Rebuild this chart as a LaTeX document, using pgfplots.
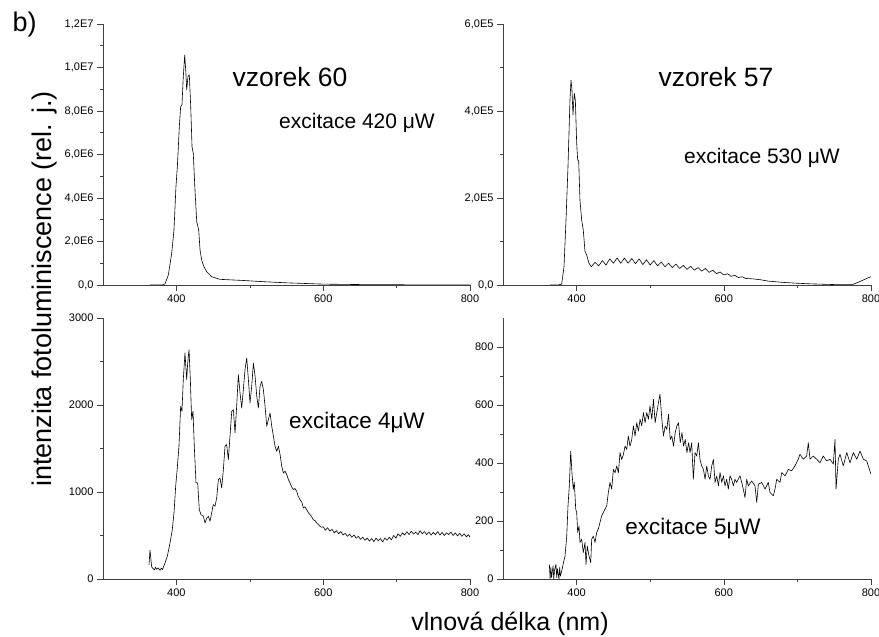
\documentclass[border=0pt]{standalone}
\usepackage{fontspec}
\setmainfont{Liberation Sans}
\usepackage{pgfplots}
\pgfplotsset{compat=1.18}
\pgfplotsset{
 panel/.style={
  scale only axis, anchor=south west,
  axis x line=bottom, axis y line=left,
  axis line style={-, black!75, line width=0.7pt},
  tick style={black!75, line width=0.6pt},
  tick align=outside,
  major tick length=6pt, minor tick length=3.5pt,
  xmin=300, xmax=800,
  xtick={400,600,800}, xticklabels={400,600,800},
  minor xtick={500,700},
  ticklabel style={font=\fontsize{11}{13}\selectfont, text=black},
 },
 curve/.style={black, line width=0.6pt, line join=round, mark=none},
}
\begin{document}
\begin{tikzpicture}
\useasboundingbox (0,0) rectangle (879pt,637pt);

% top left: vzorek 60, 420 uW (units 1E6)
\begin{axis}[panel, at={(103pt,352pt)}, width=367pt, height=261pt,
  ymin=0, ymax=12, ytick={0,2,4,6,8,10,12},
  yticklabels={{0,0},{2,0E6},{4,0E6},{6,0E6},{8,0E6},{1,0E7},{1,2E7}},
  minor ytick={1,3,5,7,9,11}]
\addplot[curve] coordinates {
(364,0) (380,0) (384.5,0.05) (389,0.46) (393.6,1.46) (396.7,2.53) (399.4,4.52)
(401.3,5.44) (404,7.28) (405.8,8.2) (407.6,8.28) (409.4,9.58) (411.3,10.57)
(413,9.73) (414,8.97) (415.8,9.58) (417.6,9.66) (419.5,8.2) (421.3,6.36)
(423,6.05) (425.3,4.37) (427.7,2.91) (430.4,2.53) (432.2,1.61) (434.4,1.15)
(437.6,0.84) (441.3,0.61) (448,0.38) (459.4,0.26) (477.5,0.23) (490,0.21)
(500,0.19) (520,0.15) (550,0.1) (600,0.04) (650,0.02) (700,0.01) (800,0)
};
\end{axis}

% top right: vzorek 57, 530 uW (units 1E3)
\begin{axis}[panel, at={(503pt,352pt)}, width=368pt, height=261pt,
  ymin=0, ymax=600, ytick={0,200,400,600},
  yticklabels={{0,0},{2,0E5},{4,0E5},{6,0E5}},
  minor ytick={100,300,500}]
\addplot[curve] coordinates {
(364,0) (375,0) (379.7,2) (382.9,42) (385.6,149) (388.3,272) (391,425)
(392.4,471) (393.7,448) (395.1,391) (396.9,441) (398.3,425) (400.1,326)
(401.5,287) (402.8,287) (404.6,195) (406.9,149) (409.1,126) (411.4,77)
(413.7,69) (416.8,50)
(420,42) (425,52) (430,44) (435,56) (440,46) (445,60) (450,50) (455,62)
(460,50) (465,62) (470,50) (475,61) (480,49) (485,60) (490,47) (495,58)
(500,46) (505,56) (510,44) (515,53) (520,42) (525,50) (530,40) (535,48)
(540,38) (545,45) (550,36) (555,43) (560,34) (565,40) (570,32) (575,38)
(580,29) (585,34) (590,26) (595,30) (600,23) (605,26) (610,20) (615,22)
(620,17) (625,19) (630,15) (640,14) (650,12) (660,9) (680,6) (700,4)
(720,2.5) (750,1) (775,1) (785,8) (794,15) (800,19)
};
\end{axis}

% bottom left: 4 uW
\begin{axis}[panel, at={(103pt,58pt)}, width=367pt, height=261pt,
  ymin=0, ymax=3000, ytick={0,1000,2000,3000},
  yticklabels={0,1000,2000,3000},
  minor ytick={500,1500,2500}]
\addplot[curve] coordinates {
(362.7,161) (364,333) (366.3,141) (368,120) (370,105) (371.5,135) (373,110)
(375,128) (377.7,100) (379.5,125) (381,108) (382,130) (384.5,184) (387.6,260)
(391.3,414) (394.4,567) (396.7,759) (399,1065) (401.2,1275) (403.5,1525)
(405.8,1985) (407.6,1928) (409.4,2292) (411.7,2598) (414,2292) (415.4,2483)
(417.2,2636) (419,2292) (420.8,1833) (422.6,1928) (424.4,1525) (426.7,1104)
(429,1104) (431.2,797) (433.5,740) (436.7,720) (439,644) (441.3,701)
(443.5,720) (445.8,663) (448,759) (450.3,855) (452.6,836) (454.9,931)
(457.2,1142) (459.4,1161) (461.7,1046) (464,1257) (466.2,1525) (468.5,1544)
(470.8,1372) (473,1640) (475.4,1928) (477.6,1947) (479.9,1679) (482.1,1985)
(484.4,2349) (486.7,2138) (489,1966) (491.2,2177) (493.5,2407) (495.8,2540)
(498.1,2292) (500.3,2024) (502.6,2215) (504.9,2483) (507.2,2330) (509.5,2100)
(511.7,1966) (514,2215) (516.2,2272) (518.5,2177) (520.8,1985) (523.1,1756)
(525.3,1833) (527.6,1909) (529.9,1756) (532.2,1640) (534.4,1525) (536.7,1467)
(539,1525) (541.3,1429) (543.5,1295) (545.8,1218) (548,1240) (550.3,1200)
(552.6,1142) (554.8,1104) (557,1060) (559.3,1027) (561.5,1040) (563.9,1008)
(566,950) (568.4,912) (571,880) (573,816) (575,830) (577.5,797) (580,760)
(582,740) (584,720) (586.5,682) (589,670) (591.1,644) (593,630) (595.6,605)
(598,595) (600,600) (603,560) (606,590) (609,550) (612,570) (615,530)
(618,555) (621,520) (624,545) (627,505) (630,525) (633,490) (636,515)
(639,480) (642,505) (645,470) (648,490) (651,455) (654,480) (657,445)
(660,470) (663,435) (666,465) (669,430) (672,470) (675,440) (678,465)
(681,425) (684,470) (687,445) (690,480) (693,450) (696,500) (699,470)
(702,520) (705,490) (708,530) (711,505) (714,545) (717,510) (720,550)
(723,515) (726,540) (729,510) (732,555) (735,520) (738,545) (741,510)
(744,540) (747,505) (750,535) (753,510) (756,545) (759,505) (762,535)
(765,500) (768,530) (771,510) (774,540) (777,500) (780,530) (783,495)
(786,525) (789,490) (792,520) (795,485) (798,510) (800,480)
};
\end{axis}

% bottom right: 5 uW
\begin{axis}[panel, at={(503pt,58pt)}, width=368pt, height=261pt,
  ymin=0, ymax=900, ytick={0,200,400,600,800},
  yticklabels={0,200,400,600,800},
  minor ytick={100,300,500,700}]
\addplot[curve] coordinates {
(363,50) (364,0) (365,40) (366,5) (368,45) (369,0) (370,30) (372,50) (373,5)
(374,35) (376,0) (377,40) (378,10) (380,30) (382,55) (384.2,78) (386.6,148)
(388.3,252) (390.1,321) (392,441) (393.7,366) (395.5,309) (396.9,333)
(398.8,241) (400.1,229) (401.5,160) (403.3,183) (404.6,126) (406.9,137)
(409.1,91) (411.4,126) (412.8,50) (414.5,114) (416.8,80) (419.2,57)
(420.5,137) (422.7,148) (425,126) (427.3,160) (429.5,172) (431.8,195)
(434,218) (436.3,229) (438.6,241) (440.9,252) (443.1,298) (445.4,333)
(447.7,310) (450,378) (452.2,366) (454.5,390) (456.8,366) (459,436)
(461.3,412) (463.6,430) (465.8,458) (468.1,447) (470.3,493) (472.6,458)
(474.9,481) (477.2,528) (479.4,493) (481.7,539) (484,510) (486.2,551)
(488.5,528) (490.8,574) (493.1,539) (495.3,574) (497.6,551) (499.7,597)
(502.2,551) (504.4,620) (506.7,539) (509,574) (511.2,608) (513.3,637)
(515.8,551) (518,493) (520.4,528) (522.6,516) (524.9,568) (527.2,481)
(529.4,493) (531.7,458) (534,505) (536.2,528) (538.5,539) (540.8,470)
(543.1,505) (545.3,458) (547.6,481) (549.9,436) (552.2,470) (554.1,436)
(556.4,470) (558.6,344) (560.9,436) (563.2,424) (565.5,470) (567.7,412)
(570,390) (572.3,378) (574.6,344) (576.8,390) (579.1,355) (581.3,344)
(583.6,390) (585.9,412) (588.1,333) (590.4,355) (592.7,321) (594.9,367)
(597.2,333) (599.5,356) (601.6,321) (603.9,344) (606.2,310) (608.4,356)
(610.7,344) (613,321) (615.2,344) (617.5,333) (622,356) (624.3,333)
(626.5,310) (628.8,281) (631.1,344) (633.3,321) (637.9,338) (642.4,321)
(644.7,264) (647,327) (651.5,333) (656,310) (660.5,333) (662.8,298)
(667.3,287) (669.6,310) (671.9,344) (676.4,333) (678.7,367) (683.2,356)
(687.7,378) (692.2,373) (696.7,390) (701.2,413) (703.5,430) (708,413)
(712.6,424) (714.8,470) (717.1,413) (721.6,424) (726.2,413) (730.7,401)
(735.2,424) (739.7,407) (744.3,413) (748.8,396) (751.1,481) (752.5,310)
(755.6,413) (757.9,430) (762.4,390) (767,436) (771.5,401) (776,436)
(780.6,413) (785.1,441) (789.6,413) (794.2,407) (800,361)
};
\end{axis}

% texts
\node[anchor=base west, font=\fontsize{27}{32}\selectfont] at (9pt,605pt) {b)};
\node[anchor=base, font=\fontsize{26.5}{31}\selectfont] at (290pt,550pt) {vzorek 60};
\node[anchor=base, font=\fontsize{26.5}{31}\selectfont] at (716pt,550pt) {vzorek 57};
\node[anchor=base, font=\fontsize{21}{25}\selectfont] at (357pt,508pt) {excitace 420 μW};
\node[anchor=base, font=\fontsize{21}{25}\selectfont] at (762pt,473pt) {excitace 530 μW};
\node[anchor=base, font=\fontsize{22.5}{27}\selectfont] at (357pt,208pt) {excitace 4μW};
\node[anchor=base, font=\fontsize{22.5}{27}\selectfont] at (693pt,102pt) {excitace 5μW};
\node[anchor=base, rotate=90, font=\fontsize{27}{32}\selectfont] at (51pt,348pt) {intenzita fotoluminiscence (rel. j.)};
\node[anchor=base, font=\fontsize{25}{30}\selectfont] at (510pt,6pt) {vlnová délka (nm)};
\end{tikzpicture}
\end{document}
